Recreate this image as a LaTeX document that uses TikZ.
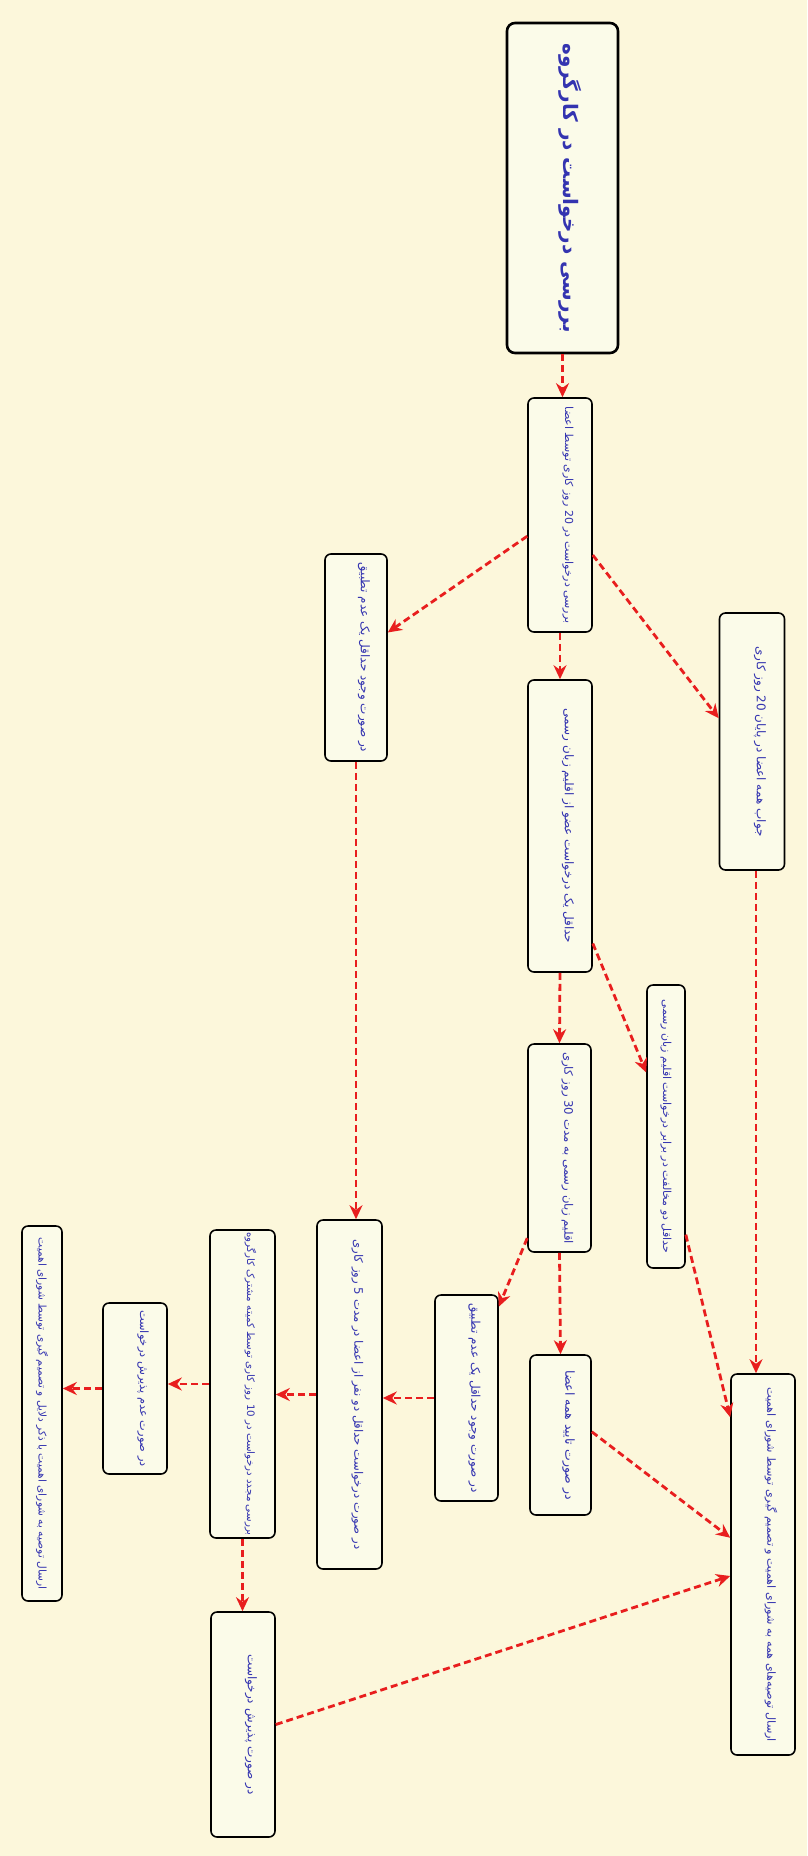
\documentclass[tikz,border=0pt]{standalone}
\usepackage{fontspec}
\usepackage{graphicx}
\usetikzlibrary{arrows.meta,calc}
\TeXXeTstate=1
\newfontfamily\fafont[Script=Arabic]{DejaVu Sans}
\definecolor{paper}{RGB}{252,247,219}
\definecolor{boxfill}{RGB}{251,251,233}
\definecolor{inkblue}{RGB}{52,52,176}
\definecolor{arrowred}{RGB}{232,30,30}
\newcommand{\vtext}[1]{\rotatebox{-90}{\fafont\beginR #1\endR}}
\newcommand{\vtextr}[1]{\hspace*{16pt}\vtext{#1}}
\tikzset{
  stage/.style={draw=black, line width=1.6pt, rounded corners=6pt, fill=boxfill,
    inner sep=0pt, text=inkblue, font=\fontsize{11.5}{14}\selectfont},
  size/.style={font=\fontsize{#1}{14}\selectfont},
  head/.style={stage, line width=2.6pt, rounded corners=8pt, font=\fontsize{20}{24}\selectfont\bfseries},
  flow/.style={draw=arrowred, line width=2.8pt, dash pattern=on 7pt off 4pt,
    -{Stealth[length=14pt,width=13pt]}},
}
\begin{document}
\begin{tikzpicture}[x=1pt,y=-1pt]
\fill[paper] (0,0) rectangle (807,1856);
\useasboundingbox (0,0) rectangle (807,1856);

% stages
\node[head, minimum width=111pt, minimum height=330pt] (review) at (562.5,188) {\vtextr{بررسی درخواست در کارگروه}};
\node[stage, size=11, minimum width=64pt, minimum height=234pt] (members) at (560,515) {\vtextr{بررسی درخواست در 20 روز کاری توسط اعضا}};
\node[stage, size=12, minimum width=62pt, minimum height=207pt] (mismatchA) at (356,657.5) {\vtextr{در صورت وجود حداقل یک عدم تطبیق}};
\node[stage, size=12, minimum width=64pt, minimum height=292pt] (request) at (560,826) {\vtextr{حداقل یک درخواست عضو از اقلیم زبان رسمی}};
\node[stage, size=12, minimum width=65pt, minimum height=257pt] (answer) at (752,741.5) {\vtextr{جواب همه اعضا در پایان 20 روز کاری}};
\node[stage, size=11.7, minimum width=63pt, minimum height=208pt] (region) at (559.5,1148) {\vtextr{اقلیم زبان رسمی به مدت 30 روز کاری}};
\node[stage, size=11, minimum width=38pt, minimum height=283pt] (objection) at (666,1126.5) {\vtext{حداقل دو مخالفت در برابر درخواست اقلیم زبان رسمی}};
\node[stage, size=11.7, minimum width=65pt, minimum height=349pt] (twoask) at (349.5,1394.5) {\vtextr{در صورت درخواست حداقل دو نفر از اعضا در مدت 5 روز کاری}};
\node[stage, size=12, minimum width=63pt, minimum height=206pt] (mismatchB) at (466.5,1398) {\vtextr{در صورت وجود حداقل یک عدم تطبیق}};
\node[stage, size=12.5, minimum width=61pt, minimum height=160pt] (approve) at (560.5,1435) {\vtextr{در صورت تایید همه اعضا}};
\node[stage, size=11.2, minimum width=64pt, minimum height=381pt] (council) at (763,1564.5) {\vtextr{ارسال توصیه‌های همه به شورای اهمیت و تصمیم گیری توسط شورای اهمیت}};
\node[stage, size=10.3, minimum width=65pt, minimum height=308pt] (recheck) at (242.5,1384) {\vtextr{بررسی مجدد درخواست در 10 روز کاری توسط کمیته مشترک کارگروه}};
\node[stage, size=11.4, minimum width=64pt, minimum height=171pt] (reject) at (135,1388.5) {\vtextr{در صورت عدم پذیرش درخواست}};
\node[stage, size=10.6, minimum width=40pt, minimum height=375pt] (reasons) at (42,1413.5) {\vtext{ارسال توصیه به شورای اهمیت با ذکر دلایل و تصمیم گیری توسط شورای اهمیت}};
\node[stage, size=12, minimum width=64pt, minimum height=225pt] (accept) at (243,1724.5) {\vtextr{در صورت پذیرش درخواست}};

% connectors
\draw[flow] (review.south) -- (review.south |- members.north);
\draw[flow] ($(members.north west)!0.59!(members.south west)$) -- ($(mismatchA.north east)!0.38!(mismatchA.south east)$);
\draw[flow] ($(members.north east)!0.67!(members.south east)$) -- ($(answer.north west)!0.41!(answer.south west)$);
\draw[flow] (members.south) -- (request.north);
\draw[flow] ($(request.north east)!0.9!(request.south east)$) -- ($(objection.north west)!0.31!(objection.south west)$);
\draw[flow] (request.south) -- (region.north);
\draw[flow] ([xshift=4pt]answer.south) -- ([xshift=4pt]answer.south |- council.north);
\draw[flow] (region.south) -- (approve.north);
\draw[flow] ($(region.north west)!0.93!(region.south west)$) -- ($(mismatchB.north east)!0.06!(mismatchB.south east)$);
\draw[flow] ($(objection.north east)!0.88!(objection.south east)$) -- ($(council.north west)!0.115!(council.south west)$);
\draw[flow] ($(approve.north east)!0.48!(approve.south east)$) -- ($(council.north west)!0.43!(council.south west)$);
\draw[flow] (mismatchA.south) -- (mismatchA.south |- twoask.north);
\draw[flow] (mismatchB.west) -- (mismatchB.west -| twoask.east);
\draw[flow] (twoask.west) -- (twoask.west -| recheck.east);
\draw[flow] (recheck.west) -- (recheck.west -| reject.east);
\draw[flow] (reject.west) -- (reject.west -| reasons.east);
\draw[flow] (recheck.south) -- (recheck.south |- accept.north);
\draw[flow] ($(accept.north east)!0.5!(accept.south east)$) -- ($(council.north west)!0.53!(council.south west)$);
\end{tikzpicture}
\end{document}
